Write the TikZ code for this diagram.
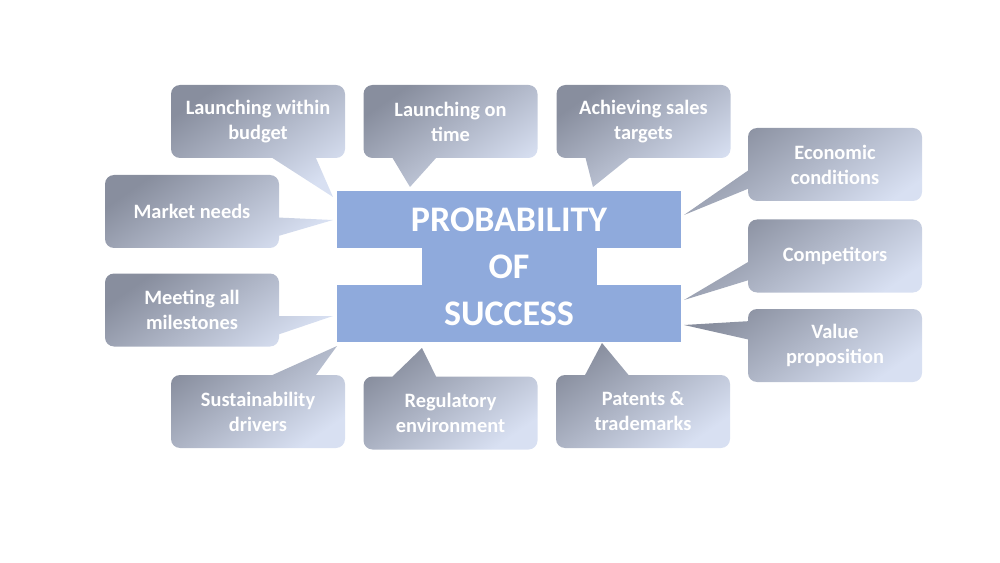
\documentclass[tikz,border=0pt]{standalone}
\usepackage{fontspec}
\setmainfont{Carlito}
\usetikzlibrary{positioning}
\usetikzlibrary{calc}
\usetikzlibrary{backgrounds}
\definecolor{coreblue}{RGB}{143,170,220}
\definecolor{bubbledark}{RGB}{136,142,158}
\definecolor{bubblelight}{RGB}{216,224,242}

\begin{document}
\begin{tikzpicture}
        [
            x=0.75pt, y=-0.75pt,
            core/.style={rectangle, fill=coreblue, text=white, inner sep=0pt, outer sep=0pt, font=\fontsize{27}{32}\selectfont\bfseries},
            factor/.style={rectangle, text=white, align=center, inner sep=0pt, outer sep=0pt, minimum width=130.5pt, minimum height=54.75pt, font=\fontsize{15.3}{18.75}\selectfont\bfseries},
            bubble/.style={top color=bubbledark, bottom color=bubblelight, shading angle=35}
        ]
        \useasboundingbox (0,0) rectangle (1000,563);
        %nodes
        \node[core, minimum width=258pt, minimum height=42.75pt] at (509,219.5)    (prob)      {PROBABILITY};
        \node[core, minimum width=131.25pt, minimum height=28.5pt, below=-0.2pt of prob] (of)   {OF};
        \node[core, minimum width=258pt, minimum height=42.75pt, below=-0.2pt of of]    (success)  {SUCCESS};
        \node[factor] at (258,121.5)        (budget)        {Launching within\\budget};
        \node[factor] at (192,211.5)        (needs)         {Market needs};
        \node[factor] at (450.5,121.5)      (ontime)        {Launching on\\time};
        \node[factor] at (643.5,121.5)      (sales)         {Achieving sales\\targets};
        \node[factor] at (835,164.5)        (economy)       {Economic\\conditions};
        \node[factor] at (835,256)          (competitors)   {Competitors};
        \node[factor] at (835,345.5)        (value)         {Value\\proposition};
        \node[factor] at (192,310)          (milestones)    {Meeting all\\milestones};
        \node[factor] at (258,411.5)        (drivers)       {Sustainability\\drivers};
        \node[factor] at (450.5,413)        (regulation)    {Regulatory\\environment};
        \node[factor] at (643,411.5)        (patents)       {Patents \&\\trademarks};
        %pointer tips
        \coordinate (budget_tip)      at (333,197);
        \coordinate (needs_tip)       at (333,220);
        \coordinate (ontime_tip)      at (410,187);
        \coordinate (sales_tip)       at (593,187);
        \coordinate (economy_tip)     at (684,215);
        \coordinate (competitors_tip) at (684,300);
        \coordinate (value_tip)       at (684,325);
        \coordinate (milestones_tip)  at (333,316);
        \coordinate (drivers_tip)     at (337,346);
        \coordinate (regulation_tip)  at (422,348);
        \coordinate (patents_tip)     at (602,343);
        %bubbles
        \begin{scope}[on background layer, rounded corners=6.75pt]
        \shade[bubble] (budget.south west) rectangle (budget.north east) [sharp corners] ($(budget.south west)!0.583!(budget.south east)$) -- (budget_tip) -- ($(budget.south west)!0.833!(budget.south east)$) -- cycle;
        \shade[bubble] (needs.south west) rectangle (needs.north east) [sharp corners] ($(needs.north east)!0.583!(needs.south east)$) -- (needs_tip) -- ($(needs.north east)!0.833!(needs.south east)$) -- cycle;
        \shade[bubble] (ontime.south west) rectangle (ontime.north east) [sharp corners] ($(ontime.south west)!0.167!(ontime.south east)$) -- (ontime_tip) -- ($(ontime.south west)!0.417!(ontime.south east)$) -- cycle;
        \shade[bubble] (sales.south west) rectangle (sales.north east) [sharp corners] ($(sales.south west)!0.167!(sales.south east)$) -- (sales_tip) -- ($(sales.south west)!0.417!(sales.south east)$) -- cycle;
        \shade[bubble] (economy.south west) rectangle (economy.north east) [sharp corners] ($(economy.north west)!0.583!(economy.south west)$) -- (economy_tip) -- ($(economy.north west)!0.833!(economy.south west)$) -- cycle;
        \shade[bubble] (competitors.south west) rectangle (competitors.north east) [sharp corners] ($(competitors.north west)!0.583!(competitors.south west)$) -- (competitors_tip) -- ($(competitors.north west)!0.833!(competitors.south west)$) -- cycle;
        \shade[bubble] (value.south west) rectangle (value.north east) [sharp corners] ($(value.north west)!0.167!(value.south west)$) -- (value_tip) -- ($(value.north west)!0.417!(value.south west)$) -- cycle;
        \shade[bubble] (milestones.south west) rectangle (milestones.north east) [sharp corners] ($(milestones.north east)!0.583!(milestones.south east)$) -- (milestones_tip) -- ($(milestones.north east)!0.833!(milestones.south east)$) -- cycle;
        \shade[bubble] (drivers.south west) rectangle (drivers.north east) [sharp corners] ($(drivers.north west)!0.583!(drivers.north east)$) -- (drivers_tip) -- ($(drivers.north west)!0.833!(drivers.north east)$) -- cycle;
        \shade[bubble] (regulation.south west) rectangle (regulation.north east) [sharp corners] ($(regulation.north west)!0.167!(regulation.north east)$) -- (regulation_tip) -- ($(regulation.north west)!0.417!(regulation.north east)$) -- cycle;
        \shade[bubble] (patents.south west) rectangle (patents.north east) [sharp corners] ($(patents.north west)!0.167!(patents.north east)$) -- (patents_tip) -- ($(patents.north west)!0.417!(patents.north east)$) -- cycle;
        \end{scope}
    \end{tikzpicture}
\end{document}
